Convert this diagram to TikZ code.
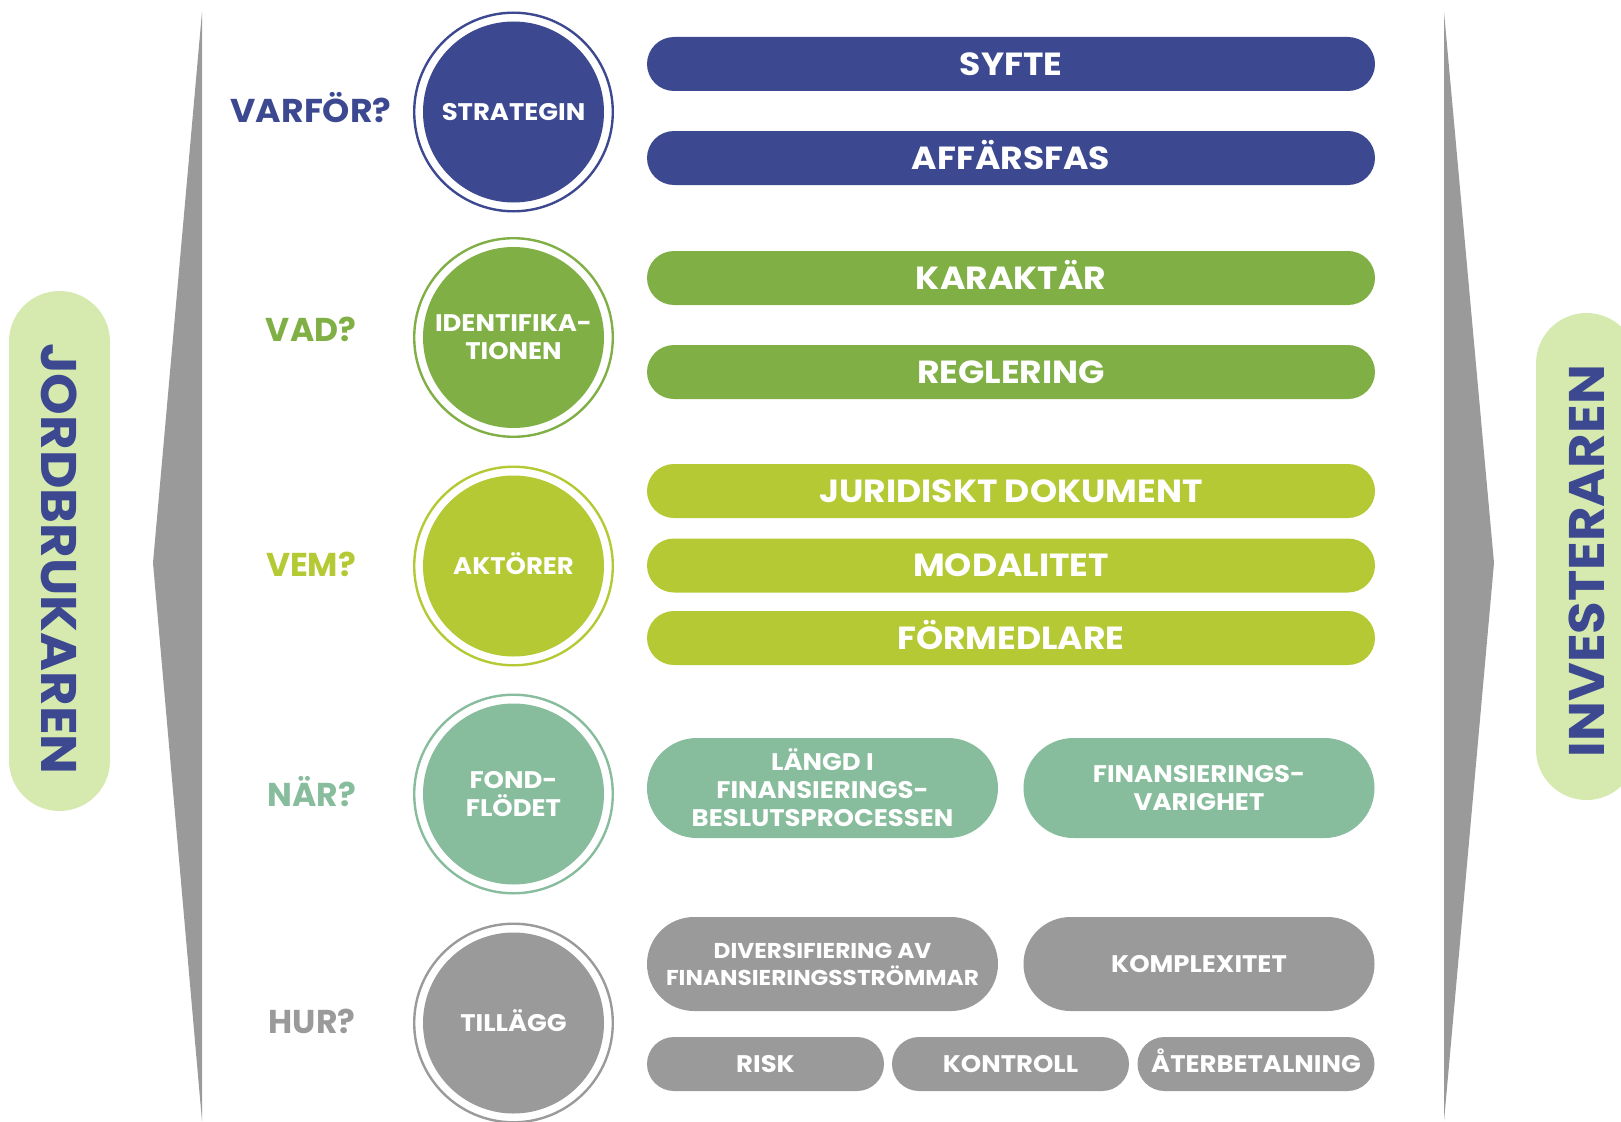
\documentclass[tikz,border=0pt]{standalone}
\usepackage{fontspec}
\setmainfont{Poppins}
\newfontfamily\widefont{Poppins}[FakeStretch=1.08]
\newfontfamily\sidefont{Poppins}[FakeStretch=1.06]
\newfontfamily\askfont{Poppins}[FakeStretch=1.05]
\definecolor{navy}{HTML}{3C4990}
\definecolor{leaf}{HTML}{80AF46}
\definecolor{lime}{HTML}{B5C934}
\definecolor{mint}{HTML}{87BC9C}
\definecolor{stone}{HTML}{9A9A9A}
\definecolor{pale}{HTML}{D6EAB0}
\begin{document}
\begin{tikzpicture}[x=1pt,y=-1pt,
  capline/.style={text height=16.8pt, text depth=0pt},
  pill/.style={rectangle, inner sep=0pt, align=center, text=white,
    font=\widefont\bfseries\fontsize{24}{28}\selectfont},
  bigbar/.style={pill, minimum width=728pt, minimum height=54pt,
    rounded corners=27pt, text height=22.4pt, text depth=0pt,
    font=\widefont\bfseries\fontsize{32}{36}\selectfont},
  halfbar/.style={pill, minimum width=351pt},
  smallbar/.style={pill, capline, minimum width=237pt, minimum height=54pt, rounded corners=27pt},
  core/.style={circle, inner sep=0pt, minimum size=181pt, align=center, text=white,
    font=\widefont\bfseries\fontsize{24}{28}\selectfont},
  ring/.style={line width=2.4pt},
  question/.style={font=\bfseries\fontsize{33}{36}\selectfont, inner sep=0pt,
    text height=23pt, text depth=0pt},
  side/.style={rectangle, minimum width=101pt, rounded corners=50.5pt, fill=pale, inner sep=0pt},
  sidetext/.style={text=navy, font=\sidefont\bfseries\fontsize{50}{54}\selectfont, inner sep=0pt,
    text height=35pt, text depth=0pt},
  wedge/.style={fill=stone}]
\useasboundingbox (0,0) rectangle (1621,1121);

% side wedges
\fill[wedge] (202,12) -- (153,563) -- (202,1121) -- cycle;
\fill[wedge] (1444,12) -- (1494,563) -- (1444,1121) -- cycle;

% side labels
\node[side, minimum height=520pt] (leftpill) at (59.5,551) {};
\node[sidetext, rotate=-90] (jord) at (58.5,559) {JORDBRUKAREN};
\begin{scope}
  \clip (0,0) rectangle (1621,1121);
  \node[side, minimum height=487pt] (rightpill) at (1586.5,556.5) {};
\end{scope}
\node[sidetext, rotate=90] (inv) at (1587,561) {INVESTERAREN};

% question words
\node[question, text=navy, font=\askfont\bfseries\fontsize{33}{36}\selectfont] (q1) at (311,111) {VARFÖR?};
\node[question, text=leaf] (q2) at (311,330) {VAD?};
\node[question, text=lime] (q3) at (311,565) {VEM?};
\node[question, text=mint] (q4) at (312,795) {NÄR?};
\node[question, text=stone] (q5) at (312,1022) {HUR?};

% central circles
\node[core, capline, fill=navy] (c1) at (513.5,112) {STRATEGIN};
\node[core, fill=leaf] (c2) at (513.5,337.5) {IDENTIFIKA-\\TIONEN};
\node[core, capline, fill=lime] (c3) at (513.5,566) {AKTÖRER};
\node[core, fill=mint] (c4) at (513.5,794) {FOND-\\FLÖDET};
\node[core, capline, fill=stone] (c5) at (513.5,1023) {TILLÄGG};
\draw[ring, navy] (c1.center) circle (99.3);
\draw[ring, leaf] (c2.center) circle (99.3);
\draw[ring, lime] (c3.center) circle (99.3);
\draw[ring, mint] (c4.center) circle (99.3);
\draw[ring, stone] (c5.center) circle (99.3);

% bars
\node[bigbar, fill=navy] (syfte) at (1011,64) {SYFTE};
\node[bigbar, fill=navy] (affar) at (1011,158) {AFFÄRSFAS};
\node[bigbar, fill=leaf] (karak) at (1011,278) {KARAKTÄR};
\node[bigbar, fill=leaf] (regl) at (1011,372) {REGLERING};
\node[bigbar, fill=lime] (jurid) at (1011,491) {JURIDISKT DOKUMENT};
\node[bigbar, fill=lime] (modal) at (1011,565.5) {MODALITET};
\node[bigbar, fill=lime] (forme) at (1011,638) {FÖRMEDLARE};

\node[halfbar, fill=mint, minimum height=100pt, rounded corners=50pt] (langd) at (822.5,788)
  {LÄNGD I\\FINANSIERINGS-\\BESLUTSPROCESSEN};
\node[halfbar, fill=mint, minimum height=100pt, rounded corners=50pt] (varig) at (1199,788)
  {FINANSIERINGS-\\VARIGHET};
\node[halfbar, fill=stone, minimum height=94pt, rounded corners=47pt,
  font=\widefont\bfseries\fontsize{21.5}{27}\selectfont] (divers) at (822.5,964)
  {DIVERSIFIERING AV\\FINANSIERINGSSTRÖMMAR};
\node[halfbar, capline, fill=stone, minimum height=94pt, rounded corners=47pt] (kompl) at (1199,964)
  {KOMPLEXITET};
\node[smallbar, fill=stone] (risk) at (765.5,1064) {RISK};
\node[smallbar, fill=stone] (kontr) at (1010.5,1064) {KONTROLL};
\node[smallbar, fill=stone] (aterb) at (1256,1064) {ÅTERBETALNING};
\end{tikzpicture}
\end{document}
